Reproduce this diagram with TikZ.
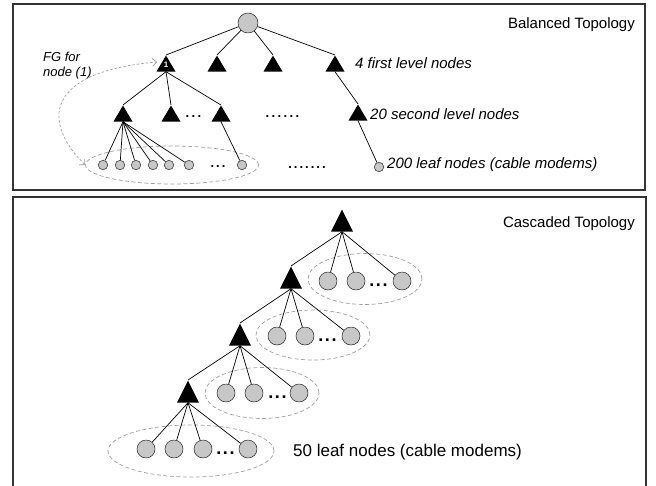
\documentclass[tikz,border=0pt]{standalone}
\usepackage{fontspec}
\setmainfont{Liberation Sans}
\usetikzlibrary{shapes.geometric,arrows.meta}
\begin{document}
\begin{tikzpicture}[x=1pt,y=-1pt,
  panel/.style={draw=black!80, line width=1.4pt},
  tri/.style={isosceles triangle, shape border rotate=90, isosceles triangle stretches,
    fill=black, draw=none, inner sep=0pt, anchor=north},
  stri/.style={tri, minimum width=19pt, minimum height=16pt},
  btri/.style={tri, minimum width=22pt, minimum height=22pt},
  sleaf/.style={circle, draw=black!85, fill=black!22, line width=0.5pt, inner sep=0pt, minimum size=9.5pt},
  bleaf/.style={sleaf, minimum size=18pt},
  rootnode/.style={sleaf, minimum size=20pt},
  edge/.style={draw=black, line width=0.7pt},
  grp/.style={ellipse, draw=black!38, dash pattern=on 4pt off 2.5pt, line width=0.7pt, inner sep=0pt},
  fgarrow/.style={draw=black!38, dash pattern=on 2.5pt off 2pt, line width=0.7pt,
    {Straight Barb[length=4pt,width=8pt]}-{Straight Barb[length=4pt,width=8pt]}},
  itlabel/.style={font=\itshape\fontsize{15}{17}\selectfont, anchor=base west, inner sep=0pt},
  title/.style={font=\fontsize{15}{17}\selectfont, anchor=base east, inner sep=0pt},
  dotsn/.style={font=\bfseries\fontsize{13}{15}\selectfont, anchor=base, inner sep=0pt},
  bdots/.style={font=\bfseries\fontsize{18}{20}\selectfont, anchor=base, inner sep=0pt}
]
\useasboundingbox (0,0) rectangle (656,485);

% panels
\draw[panel] (13,4) rectangle (645,190);
\draw[panel] (13,486) -- (13,197) -- (646,197) -- (646,486);

% ---------- Balanced topology ----------
\node[title] (btitle) at (635,28) {Balanced Topology};
\node[rootnode] (root) at (248,23) {};
\node[stri] (t1) at (166,55) {};
\node[stri] (t2) at (217,55) {};
\node[stri] (t3) at (273,55) {};
\node[stri] (t4) at (335,55) {};
\node[text=white, font=\bfseries\fontsize{8}{9}\selectfont, inner sep=0pt] (one) at (166,65) {1};

\node[stri] (s1) at (123,105) {};
\node[stri] (s2) at (171,105) {};
\node[stri] (s3) at (221,105) {};
\node[stri] (s4) at (358,104) {};

\node[grp, minimum width=173pt, minimum height=38pt] (g) at (172,165) {};
\foreach \i/\x in {1/103,2/120,3/136,4/153,5/169,6/189}
  \node[sleaf] (la\i) at (\x,165) {};
\node[sleaf] (lb) at (242,165) {};
\node[sleaf] (lc) at (379,167) {};

\foreach \t in {t1,t2,t3,t4} \draw[edge] (root) -- (\t.north);
\foreach \s in {s1,s2,s3} \draw[edge] (t1.south) -- (\s.north);
\draw[edge] (t4.south) -- (s4.north);
\foreach \i in {1,...,6} \draw[edge] (s1.south) -- (la\i);
\draw[edge] (s3.south) -- (lb);
\draw[edge] (s4.south) -- (lc);

\node[dotsn] (d1) at (193.5,117.5) {.\kern2.4pt.\kern2.4pt.};
\node[dotsn] (d2) at (282.5,117.5) {.\kern2.4pt.\kern2.4pt.\kern2.4pt.\kern2.4pt.\kern2.4pt.};
\node[dotsn] (d3) at (218,167) {.\kern2pt.\kern2pt.};
\node[dotsn] (d4) at (307,168) {.\kern2pt.\kern2pt.\kern2pt.\kern2pt.\kern2pt.\kern2pt.};

\node[itlabel] (lab1) at (355,68) {4 first level nodes};
\node[itlabel] (lab2) at (370,119) {20 second level nodes};
\node[itlabel] (lab3) at (387,168) {200 leaf nodes (cable modems)};

\node[font=\itshape\fontsize{13}{15}\selectfont, anchor=base west, inner sep=0pt] (fg1) at (43,61) {FG for};
\node[font=\itshape\fontsize{13}{15}\selectfont, anchor=base west, inner sep=0pt] (fg2) at (43,76) {node (1)};
\coordinate (fgtip) at (157,62);
\draw[fgarrow] (g.west) .. controls (42,122) and (44,72) .. (fgtip);

% ---------- Cascaded topology ----------
\node[title] (ctitle) at (635,227) {Cascaded Topology};

\node[grp, minimum width=114pt, minimum height=51pt] (e1) at (365,279) {};
\node[grp, minimum width=114pt, minimum height=50pt] (e2) at (313,335) {};
\node[grp, minimum width=114pt, minimum height=51pt] (e3) at (262,393) {};
\node[grp, minimum width=166pt, minimum height=52pt] (e4) at (191,451) {};

\node[btri] (T1) at (342,209) {};
\node[btri] (T2) at (291,266) {};
\node[btri] (T3) at (240,323) {};
\node[btri] (T4) at (188,380) {};

\node[bleaf] (c11) at (328,281) {};
\node[bleaf] (c12) at (356,281) {};
\node[bleaf] (c13) at (402,281) {};
\node[bdots] (cd1) at (378.5,286) {.\kern1.6pt.\kern1.6pt.};

\node[bleaf] (c21) at (277,336) {};
\node[bleaf] (c22) at (305,336) {};
\node[bleaf] (c23) at (351,336) {};
\node[bdots] (cd2) at (327.5,341) {.\kern1.6pt.\kern1.6pt.};

\node[bleaf] (c31) at (226,393) {};
\node[bleaf] (c32) at (254,393) {};
\node[bleaf] (c33) at (299,393) {};
\node[bdots] (cd3) at (277.5,398) {.\kern1.6pt.\kern1.6pt.};

\node[bleaf] (c41) at (146,449) {};
\node[bleaf] (c42) at (174,449) {};
\node[bleaf] (c43) at (203,449) {};
\node[bleaf] (c44) at (248,449) {};
\node[bdots] (cd4) at (225.5,454) {.\kern1.6pt.\kern1.6pt.};

\foreach \c in {c11,c12,c13} \draw[edge] (T1.south) -- (\c);
\draw[edge] (T1.south) -- (T2.north);
\foreach \c in {c21,c22,c23} \draw[edge] (T2.south) -- (\c);
\draw[edge] (T2.south) -- (T3.north);
\foreach \c in {c31,c32,c33} \draw[edge] (T3.south) -- (\c);
\draw[edge] (T3.south) -- (T4.north);
\foreach \c in {c41,c42,c43,c44} \draw[edge] (T4.south) -- (\c);

\node[font=\fontsize{17}{19}\selectfont, anchor=base west, inner sep=0pt] (lab4) at (293,456) {50 leaf nodes (cable modems)};
\end{tikzpicture}
\end{document}
